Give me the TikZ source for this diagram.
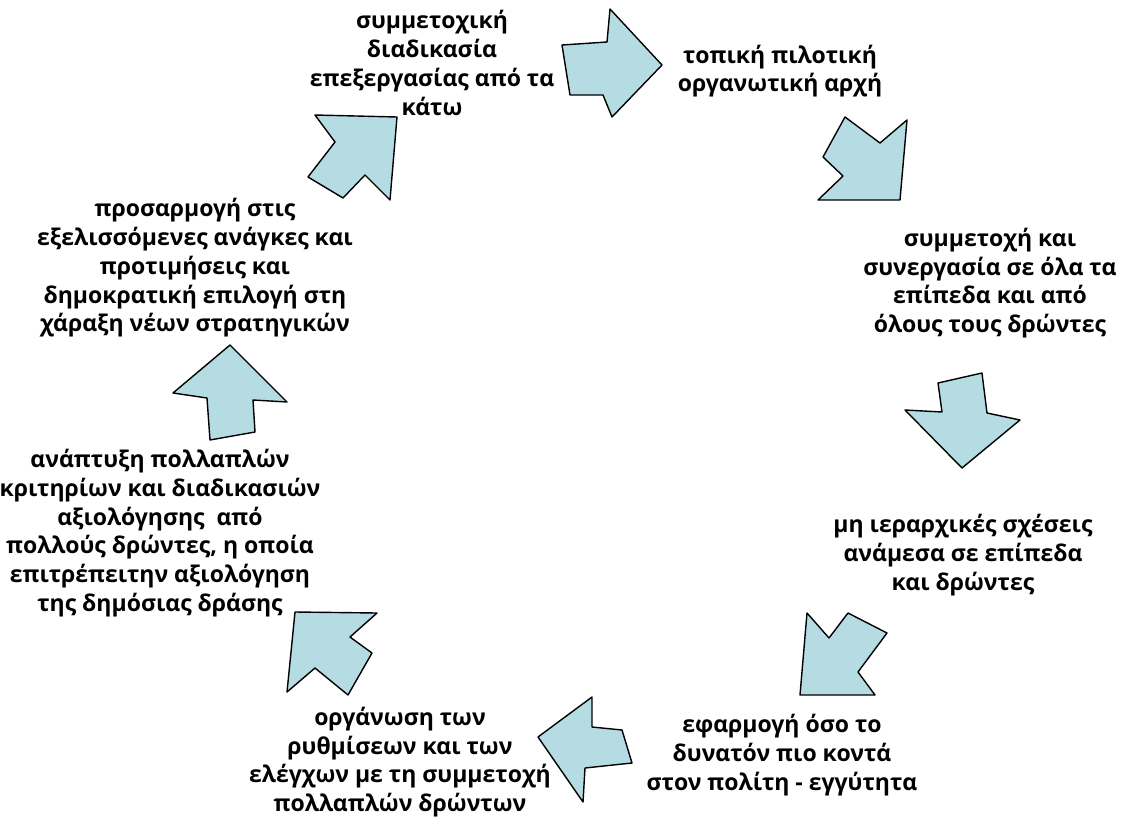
\documentclass[tikz,border=0pt]{standalone}
\usepackage{fontspec}
\setmainfont{Open Sans}
\definecolor{arrowfill}{RGB}{182,220,227}
\begin{document}
\begin{tikzpicture}[x=1pt,y=-1pt,
  lbl/.style={align=center,inner sep=0pt,font=\bfseries\fontsize{23}{28.7}\selectfont},
  arr/.style={draw=black,line width=1.4pt,fill=arrowfill,line join=round}]
\useasboundingbox (0,0) rectangle (1125,819);
% arrows
\draw[arr] (562,45) -- (607,42) -- (610,9) -- (662,65) -- (612,117) -- (603,95) -- (570,95) -- cycle;
\draw[arr] (845,117) -- (880,143) -- (907,120) -- (900,200) -- (818,200) -- (843,176) -- (823,157) -- cycle;
\draw[arr] (938,383) -- (982,373) -- (987,413) -- (1020,420) -- (962,468) -- (905,410) -- (942,412) -- cycle;
\draw[arr] (807,613) -- (829,638) -- (848,613) -- (887,633) -- (858,672) -- (875,695) -- (800,695) -- cycle;
\draw[arr] (538,737) -- (592,697) -- (592,727) -- (622,730) -- (632,763) -- (585,768) -- (583,802) -- cycle;
\draw[arr] (295,612) -- (377,613) -- (350,637) -- (372,653) -- (348,695) -- (315,668) -- (287,692) -- cycle;
\draw[arr] (230,345) -- (287,402) -- (253,400) -- (255,432) -- (210,440) -- (207,398) -- (173,393) -- cycle;
\draw[arr] (315,115) -- (397,117) -- (390,200) -- (365,175) -- (343,198) -- (308,177) -- (335,142) -- cycle;
% labels
\node[lbl] (t1) at (432,63) {συμμετοχική\\διαδικασία\\επεξεργασίας από τα\\κάτω};
\node[lbl] (t2) at (780,71) {τοπική πιλοτική\\οργανωτική αρχή};
\node[lbl] (t3) at (990,283) {συμμετοχή και\\συνεργασία σε όλα τα\\επίπεδα και από\\όλους τους δρώντες};
\node[lbl] (t4) at (963,555) {μη ιεραρχικές σχέσεις\\ανάμεσα σε επίπεδα\\και δρώντες};
\node[lbl] (t5) at (782,755) {εφαρμογή όσο το\\δυνατόν πιο κοντά\\στον πολίτη - εγγύτητα};
\node[lbl] (t6) at (400,762) {οργάνωση των\\ρυθμίσεων και των\\ελέγχων με τη συμμετοχή\\πολλαπλών δρώντων};
\node[lbl] (t7) at (160,533) {ανάπτυξη πολλαπλών\\κριτηρίων και διαδικασιών\\αξιολόγησης\ \ από\\πολλούς δρώντες, η οποία\\επιτρέπειτην αξιολόγηση\\της δημόσιας δράσης};
\node[lbl] (t8) at (195,268) {προσαρμογή στις\\εξελισσόμενες ανάγκες και\\προτιμήσεις και\\δημοκρατική επιλογή στη\\χάραξη νέων στρατηγικών};
\end{tikzpicture}
\end{document}
